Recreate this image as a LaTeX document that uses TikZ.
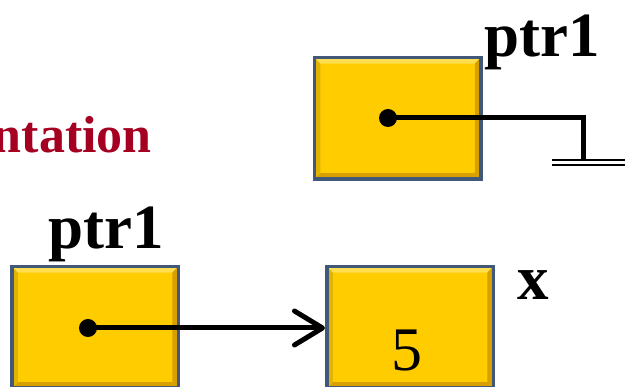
\documentclass[tikz,border=0pt]{standalone}
\usepackage{fontspec}
\setmainfont{Liberation Serif}
\usetikzlibrary{arrows.meta}
\definecolor{gold}{RGB}{255,204,0}
\definecolor{goldlight}{RGB}{255,222,80}
\definecolor{golddark}{RGB}{215,160,0}
\definecolor{boxedge}{RGB}{65,88,120}
\definecolor{titlered}{RGB}{165,0,33}
\tikzset{
  memcell/.style={draw=boxedge, line width=3.5pt, fill=gold, inner sep=0pt,
    minimum width=166.5pt, minimum height=121.5pt,
    path picture={
      \fill[goldlight] (path picture bounding box.north west) -- (path picture bounding box.north east)
        -- ([shift={(-6pt,-6pt)}]path picture bounding box.north east) -- ([shift={(6pt,-6pt)}]path picture bounding box.north west) -- cycle;
      \fill[golddark] (path picture bounding box.north east) -- (path picture bounding box.south east)
        -- ([shift={(-6pt,6pt)}]path picture bounding box.south east) -- ([shift={(-6pt,-6pt)}]path picture bounding box.north east) -- cycle;
      \fill[golddark] (path picture bounding box.south west) -- (path picture bounding box.south east)
        -- ([shift={(-6pt,6pt)}]path picture bounding box.south east) -- ([shift={(6pt,6pt)}]path picture bounding box.south west) -- cycle;
      \fill[gold!88!black] (path picture bounding box.north west) -- (path picture bounding box.south west)
        -- ([shift={(6pt,6pt)}]path picture bounding box.south west) -- ([shift={(6pt,-6pt)}]path picture bounding box.north west) -- cycle;
    }},
  bigbold/.style={font=\fontsize{63}{63}\selectfont\bfseries, inner sep=0pt},
  ptrline/.style={line width=5pt},
  dotmark/.style={circle, fill=black, inner sep=0pt, minimum size=18pt},
}
\begin{document}
\begin{tikzpicture}[x=1pt,y=-1pt]
\clip (0,0) rectangle (625,387);
\fill[white] (0,0) rectangle (625,387);
% title fragment
\node[font=\fontsize{52}{52}\selectfont\bfseries, text=titlered, inner sep=0pt, anchor=base east] (title) at (152,153) {ntation};
% top: null pointer
\node[memcell] (top) at (397.5,118.5) {};
\node[bigbold, anchor=base west] (ptrtop) at (484,57) {ptr1};
\node[dotmark] (d1) at (388,118) {};
\coordinate (bend) at (583,118);
\coordinate (gnd) at (583,161);
\draw[ptrline] (d1.center) -- (bend) -- (gnd);
\coordinate (gl) at (552,160);
\coordinate (gr) at (626,160);
\coordinate (gl2) at (552,165);
\coordinate (gr2) at (626,165);
\draw[line width=2.5pt] (gl) -- (gr);
\draw[line width=2.5pt] (gl2) -- (gr2);
% bottom: pointer to x
\node[memcell] (left) at (95,327.5) {};
\node[bigbold, anchor=base west] (ptrbot) at (48,249) {ptr1};
\node[memcell] (xcell) at (410,327.5) {};
\node[bigbold, anchor=base west] (xlab) at (517,300) {x};
\node[font=\fontsize{62}{62}\selectfont, inner sep=0pt, anchor=base] (five) at (407,371) {5};
\node[dotmark] (d2) at (88,328) {};
\draw[ptrline, -{Straight Barb[length=28pt,width=34pt,round]}] (d2.center) -- (xcell.west |- d2);
\end{tikzpicture}
\end{document}
